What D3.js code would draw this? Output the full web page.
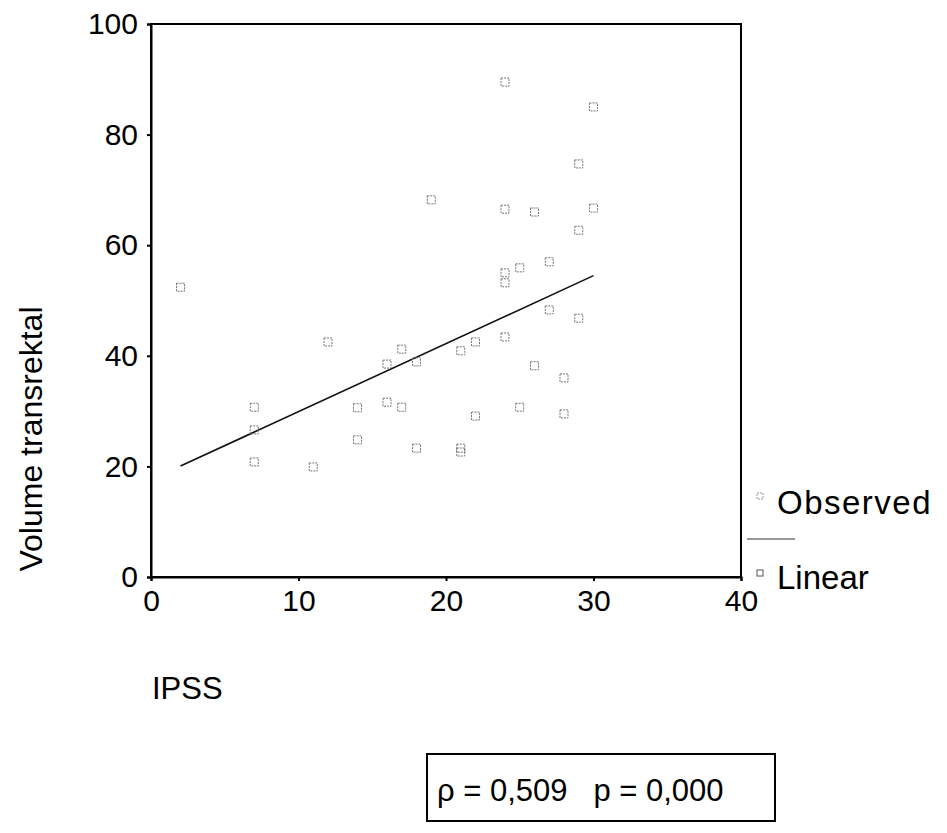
<!DOCTYPE html>
<html>
<head>
<meta charset="utf-8">
<script src="https://cdn.jsdelivr.net/npm/d3@7"></script>
<style>
  html, body { margin: 0; padding: 0; background: #fff; }
  svg { display: block; font-family: "Liberation Sans", Arial, sans-serif; }
</style>
</head>
<body>
<svg id="chart" width="947" height="833"></svg>
<script>
// ---- data ----
const ipss = [19, 2, 24, 30, 29, 24, 26, 30, 29, 25, 27, 24, 24, 12, 17, 16, 18, 7, 14, 16, 17, 14, 18, 7, 11, 27, 29, 24, 22, 21, 26, 28, 25, 22, 28, 21, 21, 7];
const volume = [68.2, 52.4, 89.5, 85.0, 74.7, 66.5, 66.0, 66.7, 62.7, 55.9, 57.0, 55.0, 53.2, 42.5, 41.2, 38.5, 38.9, 26.6, 30.6, 31.6, 30.7, 24.8, 23.3, 20.8, 19.9, 48.3, 46.8, 43.4, 42.5, 40.9, 38.2, 36.0, 30.7, 29.1, 29.5, 23.3, 22.6, 30.7];
const linearFit = { intercept: 17.6, slope: 1.23 };
const xTicks = [0, 10, 20, 30, 40];
const yTicks = [0, 20, 40, 60, 80, 100];
const xTitle = "IPSS";
const yTitle = "Volume transrektal";
const legendLabels = ["Observed", "Linear"];
const statsText = "ρ = 0,509   p = 0,000";

const svg = d3.select("#chart");
const mL = 151, mR = 741, mT = 24, mB = 577;
const FONT = '"Liberation Sans", Arial, sans-serif';

const x = d3.scaleLinear().domain([0, 40]).range([mL, mR]);
const y = d3.scaleLinear().domain([0, 100]).range([mB, mT]);

// frame
svg.append("rect")
  .attr("x", mL).attr("y", mT)
  .attr("width", mR - mL).attr("height", mB - mT)
  .attr("fill", "none").attr("stroke", "#000").attr("stroke-width", 2);

// axes
const xAxis = svg.append("g").attr("transform", `translate(0,${mB})`)
  .call(d3.axisBottom(x).tickValues(xTicks).tickSize(4).tickPadding(9).tickFormat(d3.format("d")));
const yAxis = svg.append("g").attr("transform", `translate(${mL},0)`)
  .call(d3.axisLeft(y).tickValues(yTicks).tickSize(4).tickPadding(9).tickFormat(d3.format("d")));
[xAxis, yAxis].forEach(g => {
  g.select(".domain").attr("stroke", "#000").attr("stroke-width", 2);
  g.selectAll(".tick line").attr("stroke", "#000").attr("stroke-width", 2);
  g.selectAll(".tick text").attr("fill", "#000")
    .style("font-size", "30px").style("font-family", FONT);
});

// axis titles
svg.append("text").attr("x", 152).attr("y", 699)
  .style("font-size", "31px").attr("fill", "#000").text(xTitle);
svg.append("text")
  .attr("transform", `translate(42,${(303 + 575) / 2}) rotate(-90)`)
  .attr("text-anchor", "middle")
  .style("font-size", "32px").attr("fill", "#000").text(yTitle);

// regression line across data range
const [xmin, xmax] = d3.extent(ipss);
svg.append("line")
  .attr("x1", x(xmin)).attr("y1", y(linearFit.intercept + linearFit.slope * xmin))
  .attr("x2", x(xmax)).attr("y2", y(linearFit.intercept + linearFit.slope * xmax))
  .attr("stroke", "#111").attr("stroke-width", 1.6);

// observed points (small hollow squares)
const s = 8;
svg.append("g").selectAll("rect").data(ipss.map((v, i) => [v, volume[i]]))
  .join("rect")
  .attr("x", d => x(d[0]) - s / 2).attr("y", d => y(d[1]) - s / 2)
  .attr("width", s).attr("height", s)
  .attr("fill", "none").attr("stroke", "#777").attr("stroke-width", 1)
  .attr("stroke-dasharray", "2,1");

// legend
const lg = svg.append("g");
lg.append("rect").attr("x", 757).attr("y", 493).attr("width", 6).attr("height", 6)
  .attr("fill", "none").attr("stroke", "#999").attr("stroke-width", 1).attr("stroke-dasharray", "2,1");
lg.append("text").attr("x", 777).attr("y", 514).style("font-size", "33px")
  .style("letter-spacing", "1.5px").attr("fill", "#000").text(legendLabels[0]);
lg.append("line").attr("x1", 747).attr("x2", 795).attr("y1", 539).attr("y2", 539)
  .attr("stroke", "#333").attr("stroke-width", 1.2);
lg.append("rect").attr("x", 757).attr("y", 570).attr("width", 6).attr("height", 6)
  .attr("fill", "none").attr("stroke", "#555").attr("stroke-width", 1);
lg.append("text").attr("x", 777).attr("y", 589).style("font-size", "33px").attr("fill", "#000").text(legendLabels[1]);

// stats box
svg.append("rect").attr("x", 427).attr("y", 754).attr("width", 348).attr("height", 67)
  .attr("fill", "none").attr("stroke", "#000").attr("stroke-width", 2);
svg.append("text").attr("x", 437).attr("y", 801).style("font-size", "31px").attr("fill", "#000")
  .attr("xml:space", "preserve").style("white-space", "pre").text(statsText);
</script>
</body>
</html>
